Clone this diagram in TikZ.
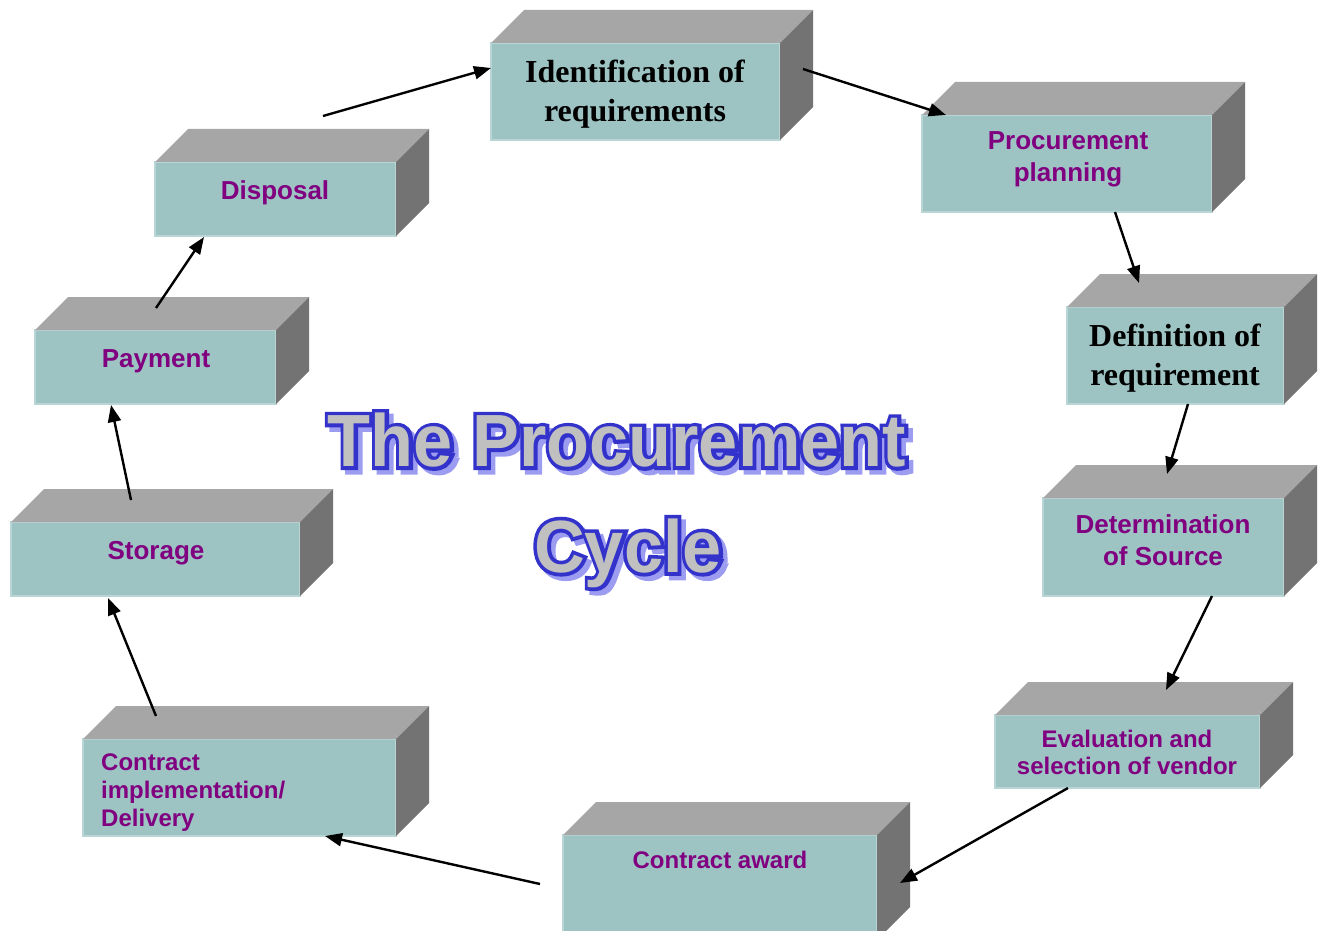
\documentclass[tikz,border=0pt]{standalone}
\usepackage{fontspec}
\usetikzlibrary{arrows.meta}
\newfontfamily\boxsans{Liberation Sans}
\newfontfamily\boxserif{Liberation Serif}
% plain and stroked cuts of the title face
\newfontfamily\titlefont[FakeStretch=0.95]{Liberation Sans Bold}
\newfontfamily\titlestroke[FakeStretch=0.95, FakeBold=10]{Liberation Sans Bold}

\definecolor{frontc}{HTML}{9DC3C3}
\definecolor{frontedge}{HTML}{B9D6D6}
\definecolor{topc}{HTML}{A6A6A6}
\definecolor{sidec}{HTML}{737373}
\definecolor{stepcol}{HTML}{800080}
\definecolor{titlefill}{HTML}{C0C0C0}
\definecolor{titleline}{HTML}{3333CC}
\definecolor{titleshade}{HTML}{9C9CF0}

\tikzset{
  front/.style={fill=frontc, draw=frontedge, line width=1.2pt, inner sep=0pt, outer sep=0pt},
  sanslabel/.style={text=stepcol, font=\boxsans\bfseries\fontsize{26}{32}\selectfont, align=center, inner sep=0pt},
  smalllabel/.style={text=stepcol, font=\boxsans\bfseries\fontsize{24}{27.5}\selectfont, align=center, inner sep=0pt},
  seriflabel/.style={text=black, font=\boxserif\bfseries\fontsize{32}{39}\selectfont, align=center, inner sep=0pt},
  titlefmt/.style={font=\titlefont\fontsize{74}{80}\selectfont, inner sep=0pt},
  titleedge/.style={font=\titlestroke\fontsize{74}{80}\selectfont, inner sep=0pt},
  flow/.style={line width=2.4pt, -{Triangle[length=17pt,width=13pt]}},
}

% top and right faces of a block, drawn behind its front face
\newcommand\blockfaces[2]{%
  \fill[topc] (#1.north west) -- ([shift={(#2,-#2)}]#1.north west) -- ([shift={(#2,-#2)}]#1.north east) -- (#1.north east) -- cycle;
  \fill[sidec] (#1.north east) -- ([shift={(#2,-#2)}]#1.north east) -- ([shift={(#2,-#2)}]#1.south east) -- (#1.south east) -- cycle;
}

% outlined title word with a drop shadow; #2 is a named coordinate
\newcommand\outlinedtitle[3]{%
  \node[titleedge, text=titleshade, xshift=4.5pt, yshift=-4.5pt] (#1s) at (#2) {#3};
  \node[titleedge, text=titleline] (#1o) at (#2) {#3};
  \node[titlefmt, text=titlefill] (#1) at (#2) {#3};
}

\begin{document}
\begin{tikzpicture}[x=1pt, y=-1pt]
\useasboundingbox (0,0) rectangle (1326,931);
\clip (0,0) rectangle (1326,931);

% front faces
\node[front, minimum width=289, minimum height=97] (ident) at (635.5,91.5) {};
\node[front, minimum width=290, minimum height=97] (plan)  at (1067,163.5) {};
\node[front, minimum width=217, minimum height=97] (defn)  at (1175.5,355.5) {};
\node[front, minimum width=241, minimum height=98] (deter) at (1163.5,547) {};
\node[front, minimum width=265, minimum height=73] (eval)  at (1127.5,751.5) {};
\node[front, minimum width=314, minimum height=105] (award) at (720,887.5) {};
\node[front, minimum width=313, minimum height=97] (impl)  at (239.5,787.5) {};
\node[front, minimum width=289, minimum height=74] (stor)  at (155.5,559) {};
\node[front, minimum width=241, minimum height=74] (pay)   at (155.5,367) {};
\node[front, minimum width=241, minimum height=74] (disp)  at (275.5,199) {};

% top and side faces
\blockfaces{ident}{33}
\blockfaces{plan}{33}
\blockfaces{defn}{33}
\blockfaces{deter}{33}
\blockfaces{eval}{33}
\blockfaces{award}{33}
\blockfaces{impl}{33}
\blockfaces{stor}{33}
\blockfaces{pay}{33}
\blockfaces{disp}{33}

% labels
\node[seriflabel] (identt) at (635,94.5) {Identification of\\requirements};
\node[sanslabel]  (plant)  at (1068,159) {Procurement\\planning};
\node[seriflabel] (defnt)  at (1175,358) {Definition of\\requirement};
\node[sanslabel]  (detert) at (1163,540) {Determination\\of Source};
\node[smalllabel] (evalt)  at (1127,752.5) {Evaluation and\\selection of vendor};
\node[smalllabel] (awardt) at (720,860) {Contract award};
\node[smalllabel, align=left, anchor=west, font=\boxsans\bfseries\fontsize{24}{28}\selectfont] (implt) at (101,792.5) {Contract\\implementation/\\Delivery};
\node[sanslabel]  (stort)  at (156,553) {Storage};
\node[sanslabel]  (payt)   at (156,361) {Payment};
\node[sanslabel]  (dispt)  at (275,193) {Disposal};

% cycle arrows
\draw[flow] ([shift={(47.5,-46)}]disp.north) -- ([shift={(0,-23.5)}]ident.west);
\draw[flow] ([shift={(23,-22.5)}]ident.east) -- ([shift={(24,0)}]plan.north west);
\draw[flow] ([shift={(48,0)}]plan.south) -- ([shift={(-36.5,-24)}]defn.north);
\draw[flow] ([shift={(12.5,0)}]defn.south) -- ([shift={(3.5,-24)}]deter.north);
\draw[flow] ([shift={(48.5,0)}]deter.south) -- ([shift={(38.5,-25)}]eval.north);
\draw[flow] ([shift={(-59.5,0)}]eval.south) -- ([shift={(23,48)}]award.north east);
\draw[flow] ([shift={(-23,49)}]award.north west) -- ([shift={(85.5,0)}]impl.south);
\draw[flow] ([shift={(-83.5,-23)}]impl.north) -- ([shift={(-47.5,2)}]stor.south);
\draw[flow] ([shift={(-24.5,-22)}]stor.north) -- ([shift={(-44.5,1)}]pay.south);
\draw[flow] ([shift={(0.5,-22)}]pay.north) -- ([shift={(-71.5,1)}]disp.south);

% title
\coordinate (tA) at (617,440);
\coordinate (tB) at (628,553);
\outlinedtitle{titleA}{tA}{The Procurement}
\outlinedtitle{titleB}{tB}{Cycle}
\end{tikzpicture}
\end{document}
